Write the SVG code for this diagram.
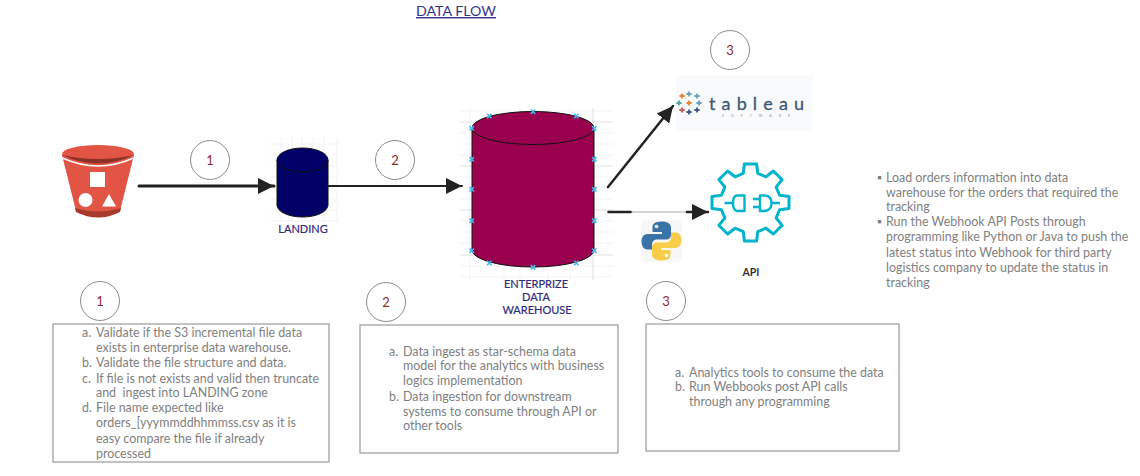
<svg xmlns="http://www.w3.org/2000/svg" xmlns:xlink="http://www.w3.org/1999/xlink" width="1140" height="476" viewBox="0 0 1140 476">
<style>
text{font-family:Lato,"Liberation Sans",sans-serif}
.li{font-size:12.45px;fill:#7f7f7f}
.lb{font-size:11px;fill:#2f2c7c;stroke:#2f2c7c;stroke-width:.2;text-anchor:middle}
.num{font-size:13px;fill:#8c2a2a;text-anchor:middle}
.circ{fill:#fff;stroke:#8c8c8c;stroke-width:1}
.box{fill:#fff;stroke:#9a9a9a;stroke-width:1.2}
.cyl{stroke:#111;stroke-width:1}
.grid{fill:none;stroke:#f0f0f0;stroke-width:.8}
.gridS{fill:none;stroke:#dedede;stroke-width:.9}
.conn{fill:none;stroke:#222;stroke-linecap:round}
.mk{stroke:#45b9ec;stroke-width:1.6;fill:none}
.plug{fill:none;stroke:#00b4cb;stroke-width:2.4;stroke-linejoin:round}
.tb{fill:none;stroke-width:1.8}
</style>
<defs>
<marker id="ah" markerUnits="userSpaceOnUse" markerWidth="18" markerHeight="18" refX="16" refY="9" orient="auto"><path d="M0 1L16 9L0 17Z" fill="#222"/></marker>
<path id="x" d="M-2.200 -2.200L2.200 2.200M-2.200 2.200L2.200 -2.200" class="mk"/>
<path id="p" d="M-2.600 0H2.600M0 -2.600V2.600" class="tb"/>
</defs>

<text id="title" x="416" y="16" font-size="14.200" fill="#35358c" text-decoration="underline">DATA FLOW</text>

<g id="s3-bucket">
<path d="M62 155L76 211Q98 223 120 211L134 155Z" fill="#e25444"/>
<path d="M75 208Q98 215 121 208L120 212Q98 223 76 212Z" fill="#a83a2e"/>
<path d="M62.500 158Q98 174 133.500 158" fill="none" stroke="#fff" stroke-width="1.5"/>
<ellipse cx="98" cy="154" rx="36" ry="9" fill="#e25444"/>
<path d="M62 155Q98 172 134 155Q98 163 62 155Z" fill="#8c3228"/>
<rect x="90" y="172" width="15" height="15" fill="#fff"/>
<circle cx="85.500" cy="200" r="7" fill="#fff"/>
<path d="M102 206.500L109 194L116 206.500Z" fill="#fff"/>
</g>

<g id="landing">
<path class="grid" d="M270 144H337M270 155H337M270 166H337M270 177H337M270 188H337M270 199H337M270 210H337M270 221H337M281 138V222M292 138V222M302 138V222M313 138V222M324 138V222M337 138V222"/>
<path class="cyl" d="M277 160V205A25.500 12 0 0 0 328 205V160Z" fill="#000066"/>
<ellipse class="cyl" cx="302.500" cy="160" rx="25.500" ry="12" fill="#000066"/>
<text class="lb" x="303" y="233">LANDING</text>
</g>

<g id="warehouse">
<path class="grid" d="M460 111H613M460 133H613M460 144H613M460 155H613M460 177H613M460 188H613M460 199H613M460 221H613M460 232H613M460 243H613M460 266H613M460 277H613M470 108V280M504 108V280M520 108V280M548 108V280M570 108V280"/>
<path class="gridS" d="M460 122H613M460 166H613M460 210H613M460 255H613M593 108V280"/>
<path class="cyl" d="M472 128V250A61 17 0 0 0 594 250V128Z" fill="#99004d"/>
<ellipse class="cyl" cx="533" cy="128" rx="61" ry="16.500" fill="#99004d"/>
<use xlink:href="#x" href="#x" x="471.700" y="128.300"/><use xlink:href="#x" href="#x" x="489.300" y="116"/><use xlink:href="#x" href="#x" x="533" y="111.700"/><use xlink:href="#x" href="#x" x="576.300" y="116"/><use xlink:href="#x" href="#x" x="594.300" y="128.300"/>
<use xlink:href="#x" href="#x" x="471.700" y="159.300"/><use xlink:href="#x" href="#x" x="594.300" y="159.300"/><use xlink:href="#x" href="#x" x="471.700" y="189.300"/><use xlink:href="#x" href="#x" x="594.300" y="189.300"/><use xlink:href="#x" href="#x" x="471.700" y="220.700"/><use xlink:href="#x" href="#x" x="594.300" y="220.700"/><use xlink:href="#x" href="#x" x="471.700" y="250.700"/><use xlink:href="#x" href="#x" x="594.300" y="250.700"/>
<use xlink:href="#x" href="#x" x="489.300" y="263"/><use xlink:href="#x" href="#x" x="533" y="267.300"/><use xlink:href="#x" href="#x" x="576.300" y="263"/>
<text class="lb" x="536" y="288">ENTERPRIZE</text>
<text class="lb" x="536" y="301">DATA</text>
<text class="lb" x="537" y="314">WAREHOUSE</text>
</g>

<g id="tableau">
<rect x="676" y="75" width="137" height="56" fill="#f9fafb"/>
<g stroke="#e8862e"><use xlink:href="#p" href="#p" x="689" y="103"/><use xlink:href="#p" href="#p" x="682" y="96"/></g>
<g stroke="#6a9fc0"><use xlink:href="#p" href="#p" x="689" y="94"/><use xlink:href="#p" href="#p" x="697" y="96"/><use xlink:href="#p" href="#p" x="699" y="103"/></g>
<g stroke="#5aa7a0"><use xlink:href="#p" href="#p" x="679" y="103"/></g>
<g stroke="#d9534f"><use xlink:href="#p" href="#p" x="682" y="110"/></g>
<g stroke="#3c5a8a"><use xlink:href="#p" href="#p" x="689" y="112"/><use xlink:href="#p" href="#p" x="697" y="110"/></g>
<text x="709" y="110" font-size="18" fill="#3d5872" stroke="#3d5872" stroke-width=".3" textLength="95" lengthAdjust="spacing">tableau</text>
<text x="722" y="116.500" font-size="3.500" fill="#8a949e" textLength="68" lengthAdjust="spacing">SOFTWARE</text>
</g>

<g id="api">
<polygon transform="translate(750.500 202.500)" fill="none" stroke="#00b4cb" stroke-width="3" stroke-linejoin="round" points="-6.100,-38.500 6.100,-38.500 7.260,-29.100 15.450,-25.700 22.900,-31.550 31.550,-22.900 25.700,-15.450 29.100,-7.260 38.500,-6.100 38.500,6.100 29.100,7.260 25.700,15.450 31.550,22.900 22.900,31.550 15.450,25.700 7.260,29.100 6.100,38.500 -6.100,38.500 -7.260,29.100 -15.450,25.700 -22.900,31.550 -31.550,22.900 -25.700,15.450 -29.100,7.260 -38.500,6.100 -38.500,-6.100 -29.100,-7.260 -25.700,-15.450 -31.550,-22.900 -22.900,-31.550 -15.450,-25.700 -7.260,-29.100"/>
<path class="plug" d="M724.500 203H733M744.500 195.500H737Q733 196 733 203Q733 210 737 211H744.500Z"/>
<path class="plug" d="M753 199H760M753 207H760M760 195.500H765Q771.500 196 771.500 203Q771.500 210 765 211H760ZM771.500 203H780"/>
<text x="751" y="276" font-size="10.500" font-weight="700" fill="#333" text-anchor="middle">API</text>
</g>

<g id="python">
<rect x="641" y="220" width="41" height="42" rx="5" fill="#f7f7f7"/>
<g transform="translate(641 221)">
<path d="M20.500 0.500C13 0.500 11.500 3.500 11.500 6.500V11H21V13H7C3 13 0.500 16 0.500 20.500C0.500 25.500 3 28.500 6.500 28.500H11V24C11 20.500 13 18.500 16.500 18.500H25C28 18.500 30 16.500 30 13.500V6.500C30 3 27 0.500 20.500 0.500Z" fill="#3a74a6"/>
<circle cx="15.500" cy="5.500" r="1.800" fill="#fff"/>
<path transform="rotate(180 20.500 20)" d="M20.500 0.500C13 0.500 11.500 3.500 11.500 6.500V11H21V13H7C3 13 0.500 16 0.500 20.500C0.500 25.500 3 28.500 6.500 28.500H11V24C11 20.500 13 18.500 16.500 18.500H25C28 18.500 30 16.500 30 13.500V6.500C30 3 27 0.500 20.500 0.500Z" fill="#f8cd4a"/>
<circle cx="25.500" cy="34.500" r="1.800" fill="#fff"/>
</g>
</g>

<g id="connectors">
<path class="conn" stroke-width="3" d="M139 186H274" marker-end="url(#ah)"/>
<path class="conn" stroke-width="2" d="M328 186H462" marker-end="url(#ah)"/>
<path class="conn" stroke-width="2.500" d="M608 187L673 106" marker-end="url(#ah)"/>
<path class="conn" stroke-width="2.500" d="M608.500 212H631"/>
<path fill="none" stroke="#aaa" stroke-width="1" d="M631 212H687"/>
<path class="conn" stroke-width="2.500" d="M687 212H708" marker-end="url(#ah)"/>
</g>

<g id="badge-1-top"><circle class="circ" cx="210" cy="160" r="19.500"/><text class="num" x="210" y="165">1</text></g>
<g id="badge-2-top"><circle class="circ" cx="395" cy="160" r="19.500"/><text class="num" x="395" y="165">2</text></g>
<g id="badge-3-top"><circle class="circ" cx="730" cy="50" r="19.500"/><text class="num" x="730" y="55">3</text></g>

<g id="step-1">
<circle class="circ" cx="100" cy="301" r="19.500"/><text class="num" x="100" y="306">1</text>
<rect class="box" x="53" y="324" width="276" height="138"/>
<text class="li" x="82" y="337">a.</text><text class="li" x="96" y="337">Validate if the S3 incremental file data</text>
<text class="li" x="96" y="352">exists in enterprise data warehouse.</text>
<text class="li" x="82" y="367">b.</text><text class="li" x="96" y="367">Validate the file structure and data.</text>
<text class="li" x="82" y="383">c.</text><text class="li" x="96" y="383">If file is not exists and valid then truncate</text>
<text class="li" x="96" y="397" xml:space="preserve">and  ingest into LANDING zone</text>
<text class="li" x="82" y="412">d.</text><text class="li" x="96" y="412">File name expected like</text>
<text class="li" x="96" y="427">orders_[yyymmddhhmmss.csv as it is</text>
<text class="li" x="96" y="443">easy compare the file if already</text>
<text class="li" x="96" y="458">processed</text>
</g>

<g id="step-2">
<circle class="circ" cx="386" cy="302" r="19.500"/><text class="num" x="386" y="307">2</text>
<rect class="box" x="360" y="325" width="258" height="128"/>
<text class="li" x="389" y="356">a.</text><text class="li" x="403" y="356">Data ingest as star-schema data</text>
<text class="li" x="403" y="370">model for the analytics with business</text>
<text class="li" x="403" y="385">logics implementation</text>
<text class="li" x="389" y="401">b.</text><text class="li" x="403" y="401">Data ingestion for downstream</text>
<text class="li" x="403" y="416">systems to consume through API or</text>
<text class="li" x="403" y="430">other tools</text>
</g>

<g id="step-3">
<circle class="circ" cx="666" cy="301" r="19.500"/><text class="num" x="666" y="306">3</text>
<rect class="box" x="646" y="324" width="253" height="127"/>
<text class="li" x="675" y="377">a.</text><text class="li" x="689" y="377">Analytics tools to consume the data</text>
<text class="li" x="675" y="391">b.</text><text class="li" x="689" y="391">Run Webbooks post API calls</text>
<text class="li" x="689" y="406">through any programming</text>
</g>

<g id="notes">
<text class="li" x="877" y="182">▪</text><text class="li" x="886" y="182">Load orders information into data</text>
<text class="li" x="886" y="197">warehouse for the orders that required the</text>
<text class="li" x="886" y="211">tracking</text>
<text class="li" x="877" y="226">▪</text><text class="li" x="886" y="226">Run the Webhook API Posts through</text>
<text class="li" x="886" y="241">programming like Python or Java to push the</text>
<text class="li" x="886" y="257">latest status into Webhook for third party</text>
<text class="li" x="886" y="272">logistics company to update the status in</text>
<text class="li" x="886" y="287">tracking</text>
</g>
</svg>
